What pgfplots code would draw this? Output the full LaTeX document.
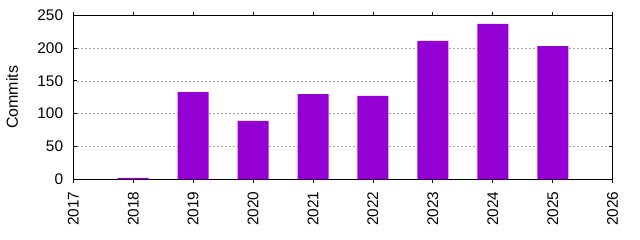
\documentclass[border=0pt]{standalone}
\usepackage{pgfplots}
\pgfplotsset{compat=1.18}
\usepackage{fontspec}
\setmainfont{Liberation Sans}
\definecolor{barc}{HTML}{9400D3}
\begin{document}
\begin{tikzpicture}[x=1pt,y=1pt]
\begin{axis}[
  at={(73.3pt,60.7pt)}, anchor=south west,
  scale only axis, width=539.4pt, height=164pt,
  xmin=2017, xmax=2026, ymin=0, ymax=250,
  xtick={2017,...,2026}, ytick={0,50,...,250},
  /pgf/number format/1000 sep={},
  /pgf/number format/assume math mode=true,
  tick label style={font=\fontsize{15.4}{17}\selectfont, inner sep=0pt},
  xticklabel style={rotate=90, anchor=east},
  xticklabel shift=8.7pt,
  yticklabel shift=10pt,
  tick align=inside, tick style={black, line width=0.8pt}, major tick length=3.5pt,
  axis line style={black, line width=0.9pt},
  ymajorgrids, grid style={gray!70, dash pattern=on 2pt off 2pt, line width=0.6pt},
  ylabel={Commits}, ylabel style={font=\fontsize{16}{18}\selectfont, at={(axis description cs:-0.1133,0.5)}, anchor=center},
  ybar, bar width=31pt, bar shift=0pt,
]
\addplot[fill=barc, draw=none] coordinates {
(2018,2) (2019,133) (2020,89) (2021,130) (2022,127) (2023,211) (2024,237) (2025,203)
};
\end{axis}
\pgfresetboundingbox
\path[use as bounding box] (0,0) rectangle (640,240);
\end{tikzpicture}
\end{document}
